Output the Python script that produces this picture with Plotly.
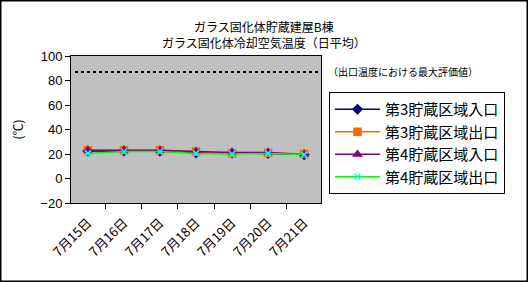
import plotly.graph_objects as go

categories = ["7月15日", "7月16日", "7月17日", "7月18日", "7月19日", "7月20日", "7月21日"]
s3_in = [22.5, 22.5, 22.3, 21.0, 20.8, 20.5, 19.5]
s3_out = [23.0, 23.0, 23.0, 22.0, 20.5, 20.8, 20.0]
s4_in = [23.0, 23.0, 23.0, 22.0, 21.2, 21.2, 19.5]
s4_out = [20.5, 22.0, 22.0, 20.5, 20.0, 20.5, 19.5]
max_eval = 87
y_ticks = [-20, 0, 20, 40, 60, 80, 100]
title_lines = ["ガラス固化体貯蔵建屋B棟", "ガラス固化体冷却空気温度（日平均）"]

FONT = "Noto Sans CJK JP"
PW, PH = 250, 147  # plot area size in px
L, T = 71, 56

def px_x(x):
    return (x - L) / PW

def px_y(y):
    return (T + PH - y) / PH

fig = go.Figure()
series = [
    ("第3貯蔵区域入口", s3_in, "#000080", "#000080", "diamond", 7),
    ("第3貯蔵区域出口", s3_out, "#FF6600", "#FF6600", "square", 7),
    ("第4貯蔵区域入口", s4_in, "#800080", "#800080", "triangle-up", 7),
    ("第4貯蔵区域出口", s4_out, "#00FF00", "#00FFFF", "x-thin-open", 6),
]
for name, vals, lc, mc, sym, sz in series:
    fig.add_trace(go.Scatter(
        x=categories, y=vals, name=name, mode="lines+markers",
        line=dict(color=lc, width=1.5),
        marker=dict(color=mc, symbol=sym, size=sz, line=dict(color=mc, width=1.5)),
    ))

fig.add_shape(type="line", xref="paper", yref="y", x0=px_x(75), x1=1.0,
              y0=max_eval, y1=max_eval, line=dict(color="black", width=2, dash="dot"))
fig.add_annotation(xref="paper", yref="y", x=px_x(326), y=max_eval, xanchor="left",
                   yanchor="middle", text="（出口温度における最大評価値）", showarrow=False,
                   font=dict(family=FONT, size=10, color="black"))
for i, line in enumerate(title_lines):
    fig.add_annotation(xref="paper", yref="paper", x=px_x(264), y=px_y(26 + 17 * i),
                       xanchor="center", yanchor="middle", text=line, showarrow=False,
                       font=dict(family=FONT, size=12, color="black"))
fig.add_shape(type="rect", xref="paper", yref="paper", x0=px_x(0.75), x1=px_x(527.25),
              y0=px_y(281.25), y1=px_y(0.75), line=dict(color="black", width=1.5),
              fillcolor="rgba(0,0,0,0)", layer="above")

fig.update_layout(
    width=528, height=282,
    margin=dict(l=L, r=528 - L - PW, t=T, b=282 - T - PH),
    paper_bgcolor="white", plot_bgcolor="#C0C0C0",
    font=dict(family=FONT, color="black"),
    legend=dict(x=px_x(329), y=px_y(92), xanchor="left", yanchor="top",
                bgcolor="white", bordercolor="black", borderwidth=1,
                font=dict(family=FONT, size=15, color="black"),
                tracegroupgap=0, itemsizing="trace", itemwidth=45),
    showlegend=True,
)

fig.update_xaxes(
    type="category", tickangle=-45, tickson="boundaries", ticks="outside", ticklen=5,
    tickcolor="black", showline=True, linecolor="black", linewidth=1, mirror=True,
    showgrid=False, tickfont=dict(family=FONT, size=13, color="black"),
    ticklabelstandoff=6,
)
fig.update_yaxes(
    range=[-20, 100], tickvals=y_ticks, ticks="outside", ticklen=5, tickcolor="black",
    showline=True, linecolor="black", linewidth=1, mirror=True, showgrid=False,
    zeroline=False, tickfont=dict(family="Liberation Sans", size=13, color="black"),
    title=dict(text="(℃)", font=dict(family=FONT, size=12, color="black"), standoff=14),
)

fig.write_html("out.html")
